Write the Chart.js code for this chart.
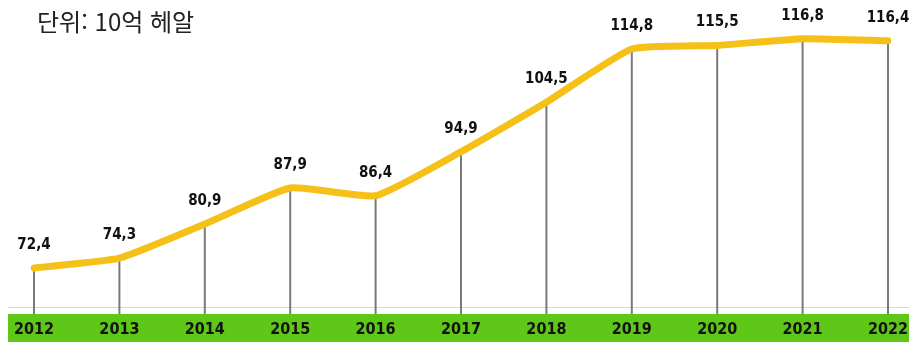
<!DOCTYPE html>
<html lang="ko">
  <head>
    <meta charset="UTF-8" />
    <title>단위: 10억 헤알</title>
    <script src="https://cdn.jsdelivr.net/npm/chart.js"></script>
    <style>
      body { margin: 0; background: #fff; }
      #wrap { position: relative; width: 909px; height: 349px; }
      #unit {
        position: absolute; left: 37px; top: 3px;
        font-family: "Noto Sans CJK KR", sans-serif; font-size: 24px; color: #222;
      }
    </style>
  </head>
  <body>
    <div id="wrap">
      <canvas id="lineChart" width="909" height="349"></canvas>
      <div id="unit">단위: 10억 헤알</div>
    </div>

    <script>
      // data
      const years = ["2012", "2013", "2014", "2015", "2016", "2017", "2018", "2019", "2020", "2021", "2022"];
      const values = [72.4, 74.3, 80.9, 87.9, 86.4, 94.9, 104.5, 114.8, 115.5, 116.8, 116.4];

      const BAND_TOP = 314;
      const BAND_BOTTOM = 342;

      // green year band, thin orange rule, gray drop lines
      const decor = {
        id: "decor",
        beforeDatasetsDraw(chart) {
          const ctx = chart.ctx;
          const x = chart.scales.x;
          ctx.save();
          ctx.fillStyle = "#5ec718";
          ctx.fillRect(8, BAND_TOP, 901, BAND_BOTTOM - BAND_TOP);
          ctx.strokeStyle = "#f3cdb8";
          ctx.lineWidth = 1;
          ctx.beginPath();
          ctx.moveTo(8, 307.5);
          ctx.lineTo(909, 307.5);
          ctx.stroke();

          const meta = chart.getDatasetMeta(0);
          ctx.strokeStyle = "#7a7a7a";
          ctx.lineWidth = 2;
          meta.data.forEach((pt) => {
            ctx.beginPath();
            ctx.moveTo(pt.x, pt.y);
            ctx.lineTo(pt.x, BAND_TOP);
            ctx.stroke();
          });

          ctx.fillStyle = "#111";
          ctx.font = "bold 16px 'DejaVu Sans Condensed', 'DejaVu Sans', sans-serif";
          ctx.textAlign = "center";
          ctx.textBaseline = "middle";
          years.forEach((y, i) => {
            ctx.fillText(y, x.getPixelForValue(i), 330);
          });
          ctx.restore();
        },
        afterDatasetsDraw(chart) {
          const ctx = chart.ctx;
          const meta = chart.getDatasetMeta(0);
          ctx.save();
          ctx.fillStyle = "#111";
          ctx.font = "bold 15px 'DejaVu Sans Condensed', 'DejaVu Sans', sans-serif";
          ctx.textAlign = "center";
          ctx.textBaseline = "middle";
          meta.data.forEach((pt, i) => {
            ctx.fillText(values[i].toFixed(1).replace(".", ","), pt.x, pt.y - 23);
          });
          ctx.restore();
        },
      };

      const ctx = document.getElementById("lineChart").getContext("2d");
      new Chart(ctx, {
        type: "line",
        data: {
          labels: years,
          datasets: [
            {
              data: values,
              borderColor: "#f5c118",
              borderWidth: 7,
              pointRadius: 0,
              tension: 0.15,
              borderCapStyle: "round",
              borderJoinStyle: "round",
              fill: false,
            },
          ],
        },
        options: {
          responsive: false,
          animation: false,
          layout: { padding: { left: 34, right: 21, top: 0, bottom: 0 } },
          scales: {
            x: { display: false, offset: false },
            y: { display: false, min: 56.7, max: 124.3 },
          },
          plugins: {
            legend: { display: false },
            tooltip: { enabled: false },
          },
        },
        plugins: [decor],
      });
    </script>
  </body>
</html>
